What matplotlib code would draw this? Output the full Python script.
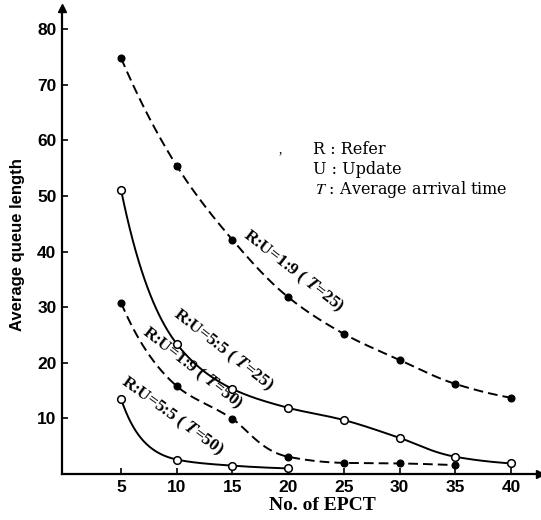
import numpy as np
import matplotlib
matplotlib.use("Agg")
import matplotlib.pyplot as plt
from matplotlib import font_manager

# ---------------- data ----------------
x_a = [5, 10, 15, 20, 25, 30, 35, 40]
y_a = [74.8, 55.4, 42.1, 31.8, 25.2, 20.5, 16.2, 13.7]      # R:U=1:9 (T=25)
x_b = [5, 10, 15, 20, 25, 30, 35, 40]
y_b = [51.1, 23.4, 15.3, 11.9, 9.7, 6.5, 3.1, 1.9]          # R:U=5:5 (T=25)
x_c = [5, 10, 15, 20, 25, 30, 35]
y_c = [30.8, 15.8, 9.9, 3.1, 2.0, 1.9, 1.6]                 # R:U=1:9 (T=50)
x_d = [5, 10, 15, 20]
y_d = [13.5, 2.6, 1.5, 1.0]                                 # R:U=5:5 (T=50)

x_ticks = [5, 10, 15, 20, 25, 30, 35, 40]
y_ticks = [10, 20, 30, 40, 50, 60, 70, 80]

label_a = r"R:U=1:9 ( $\mathbfit{T}$=25)"
label_b = r"R:U=5:5 ( $\mathbfit{T}$=25)"
label_c = r"R:U=1:9 ( $\mathbfit{T}$=50)"
label_d = r"R:U=5:5 ( $\mathbfit{T}$=50)"
legend_lines = ["R : Refer", "U : Update", r"$\mathit{T}$ : Average arrival time"]
xlabel = "No. of EPCT"
ylabel = "Average queue length"


def pchip(x, y, xs):
    x = np.asarray(x, float)
    y = np.asarray(y, float)
    h = np.diff(x)
    d = np.diff(y) / h
    n = len(x)
    m = np.zeros(n)
    for k in range(1, n - 1):
        if d[k - 1] * d[k] <= 0:
            m[k] = 0.0
        else:
            w1 = 2 * h[k] + h[k - 1]
            w2 = h[k] + 2 * h[k - 1]
            m[k] = (w1 + w2) / (w1 / d[k - 1] + w2 / d[k])
    if n > 2:
        m[0] = ((2 * h[0] + h[1]) * d[0] - h[0] * d[1]) / (h[0] + h[1])
        if np.sign(m[0]) != np.sign(d[0]):
            m[0] = 0
        m[-1] = ((2 * h[-1] + h[-2]) * d[-1] - h[-1] * d[-2]) / (h[-1] + h[-2])
        if np.sign(m[-1]) != np.sign(d[-1]):
            m[-1] = 0
    else:
        m[:] = d[0]
    ys = np.empty_like(xs)
    for i, xv in enumerate(xs):
        k = min(np.searchsorted(x, xv, side="right") - 1, n - 2)
        k = max(k, 0)
        t = (xv - x[k]) / h[k]
        h00 = 2 * t**3 - 3 * t**2 + 1
        h10 = t**3 - 2 * t**2 + t
        h01 = -2 * t**3 + 3 * t**2
        h11 = t**3 - t**2
        ys[i] = h00 * y[k] + h10 * h[k] * m[k] + h01 * y[k + 1] + h11 * h[k] * m[k + 1]
    return ys


names = {f.name for f in font_manager.fontManager.ttflist}
tick_font = "Liberation Sans Narrow" if "Liberation Sans Narrow" in names else "Liberation Sans"

plt.rcParams["mathtext.fontset"] = "stix"
plt.rcParams["font.family"] = ["Liberation Serif", "DejaVu Serif"]

fig = plt.figure(figsize=(5.41, 5.20), dpi=100)
ax = fig.add_axes([62 / 541, 46 / 520, (540 - 62) / 541, (474 - 8) / 520])
ax.set_xlim(-0.3, 42.6)
ax.set_ylim(0, 83.8)

lw = 1.4
dash = (5, 2.6)


def draw(x, y, dashed, filled):
    xs = np.linspace(x[0], x[-1], 400)
    # smooth curve through the points (interpolated in log space)
    ys = np.exp(pchip(x, np.log(y), xs))
    line, = ax.plot(xs, ys, color="black", lw=lw, solid_capstyle="round")
    if dashed:
        line.set_dashes(dash)
    if filled:
        ax.plot(x, y, "o", ms=4.8, mfc="black", mec="black", zorder=4)
    else:
        ax.plot(x, y, "o", ms=5.5, mfc="white", mec="black", mew=1.1, zorder=4)


draw(x_a, y_a, True, True)
draw(x_b, y_b, False, False)
draw(x_c, y_c, True, True)
draw(x_d, y_d, False, False)

lab_kw = dict(ha="center", va="center", rotation_mode="anchor", fontsize=12.5,
              fontweight="bold", color="black")
ax.text(20.5, 36.5, label_a, rotation=-38, **lab_kw)
ax.text(14.2, 22.2, label_b, rotation=-38, **lab_kw)
ax.text(11.4, 19.0, label_c, rotation=-38, **lab_kw)
ax.text(9.6, 10.4, label_d, rotation=-36, **lab_kw)

# legend-like note
note_kw = dict(fontsize=11.5, va="center", ha="left", family=["DejaVu Serif"])
fig.text(313 / 541, 1 - 150 / 520, legend_lines[0], **note_kw)
fig.text(313 / 541, 1 - 170 / 520, legend_lines[1], **note_kw)
fig.text(315 / 541, 1 - 190 / 520, legend_lines[2], **note_kw)
fig.text(280 / 541, 1 - 150 / 520, ",", fontsize=10, va="center", ha="center")

# axes styling
for s in ["top", "right"]:
    ax.spines[s].set_visible(False)
ax.spines["left"].set_linewidth(1.6)
ax.spines["bottom"].set_linewidth(1.6)
ax.plot([0], [1], marker="^", ms=6, color="black", transform=ax.transAxes, clip_on=False)
ax.plot([1], [0], marker=">", ms=6, color="black", transform=ax.transAxes, clip_on=False)

ax.set_xticks(x_ticks)
ax.set_yticks(y_ticks)
ax.set_xticklabels([str(v) for v in x_ticks])
ax.set_yticklabels([str(v) for v in y_ticks])
ax.tick_params(direction="in", length=4, width=1.2, pad=4)
for t in ax.get_xticklabels() + ax.get_yticklabels():
    t.set_fontfamily(tick_font)
    t.set_fontweight("bold")
    t.set_fontsize(12.5)

fig.text(322 / 541, 1 - 505 / 520, xlabel, fontsize=14, fontweight="bold",
         ha="center", va="center")
fig.text(18 / 541, 1 - 245 / 520, ylabel, fontsize=12, fontweight="bold",
         ha="center", va="center", rotation=90, family=[tick_font])

fig.savefig("out.png", dpi=100)
